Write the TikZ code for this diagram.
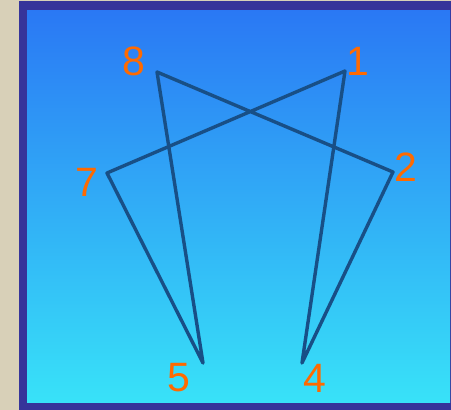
\documentclass[tikz,border=0pt]{standalone}
\usepackage{fontspec}
\setmainfont{Liberation Sans}
\definecolor{beige}{HTML}{D8D0B8}
\definecolor{frame}{HTML}{36349A}
\definecolor{bgtop}{HTML}{2A78F4}
\definecolor{bgbot}{HTML}{38E2F8}
\definecolor{lbl}{HTML}{FF6A00}
\definecolor{edge}{HTML}{184F86}
\definecolor{edgelight}{HTML}{7CCAF8}
\tikzset{
  lab/.style={text=lbl, inner sep=0pt, font=\fontsize{41}{41}\selectfont},
  edgeline/.style={draw=edge, line width=3.4pt, line join=round, line cap=round},
  edgeglow/.style={draw=edgelight, line width=2pt, line join=round, line cap=round, opacity=0.8}
}
\begin{document}
\begin{tikzpicture}[x=1pt, y=-1pt]
\useasboundingbox (0,0) rectangle (451,410);
\fill[beige] (0,0) rectangle (451,410);
\fill[frame] (19,1) rectangle (451,410);
\shade[top color=bgtop, bottom color=bgbot] (27,10) rectangle (450,402);
\coordinate (p1) at (345,71);
\coordinate (p8) at (157,72);
\coordinate (p7) at (107,173);
\coordinate (p2) at (393,172);
\coordinate (p5) at (203,363);
\coordinate (p4) at (302,363);
\begin{scope}[shift={(1.6,1.6)}]
\draw[edgeglow] (p1) -- (p7) -- (p5) -- (p8) -- (p2) -- (p4) -- cycle;
\end{scope}
\draw[edgeline] (p1) -- (p7) -- (p5) -- (p8) -- (p2) -- (p4) -- cycle;
\node[lab] (l8) at (133.5,61) {8};
\node[lab] (l1) at (358,61) {1};
\node[lab] (l7) at (87,182.5) {7};
\node[lab] (l2) at (406,167) {2};
\node[lab] (l5) at (178.5,378) {5};
\node[lab] (l4) at (314.5,378) {4};
\end{tikzpicture}
\end{document}
